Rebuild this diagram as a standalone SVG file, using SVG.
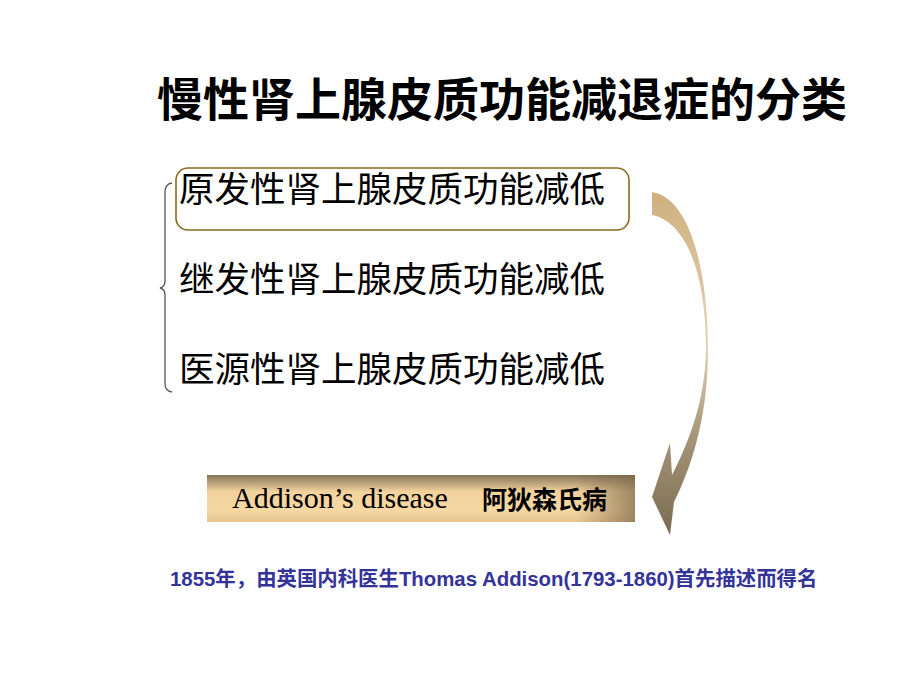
<svg xmlns="http://www.w3.org/2000/svg" width="920" height="690" viewBox="0 0 920 690">
  <style>
    .title { font-family: "Noto Sans CJK SC", sans-serif; font-weight: 700; font-size: 46px; fill: #000; }
    .item { font-family: "Noto Sans CJK SC", sans-serif; font-weight: 400; font-size: 35.5px; fill: #000; }
    .en { font-family: "Liberation Serif", serif; font-size: 30px; fill: #000; }
    .cn { font-family: "Noto Sans CJK SC", sans-serif; font-weight: 700; font-size: 25px; fill: #000; }
    .note { font-family: "Liberation Sans", "Noto Sans CJK SC", sans-serif; font-weight: 700; font-size: 20.4px; fill: #333399; }
  </style>
  <defs>
    <linearGradient id="boxV" x1="0" y1="0" x2="0" y2="1">
      <stop offset="0" stop-color="#867459"/>
      <stop offset="0.35" stop-color="#f2d29d"/>
      <stop offset="0.75" stop-color="#f7d8a3"/>
      <stop offset="1" stop-color="#e6c48f"/>
    </linearGradient>
    <linearGradient id="boxH" x1="0" y1="0" x2="1" y2="0">
      <stop offset="0" stop-color="#7a6648" stop-opacity="0"/>
      <stop offset="0.86" stop-color="#7a6648" stop-opacity="0"/>
      <stop offset="1" stop-color="#7a6648" stop-opacity="0.7"/>
    </linearGradient>
    <linearGradient id="arrowG" gradientUnits="userSpaceOnUse" x1="0" y1="192" x2="0" y2="535">
      <stop offset="0" stop-color="#cfb07f"/>
      <stop offset="0.45" stop-color="#e3d4b8"/>
      <stop offset="0.7" stop-color="#a8977a"/>
      <stop offset="1" stop-color="#7a6b50"/>
    </linearGradient>
  </defs>

  <g id="title">
    <text class="title" x="157" y="116">慢性肾上腺皮质功能减退症的分类</text>
  </g>

  <g id="connectors">
    <path id="brace" d="M172,183 Q165,184 165,192 L165,281 Q165,287 160,288 Q165,289 165,295 L165,384 Q165,391 172,392" fill="none" stroke="#555" stroke-width="1.3"/>
    <path id="curved-arrow" d="M652,192 C690,198 708,270 708,350 C708,420 690,470 674,502 L670,535 L652,497 L670,443 L672,475 C690,440 705,400 706,350 C706,270 685,222 652,215 Z" fill="url(#arrowG)"/>
  </g>

  <g id="node-primary">
    <rect x="176" y="168" width="453" height="62" rx="12" ry="12" fill="none" stroke="#8b6a1e" stroke-width="1.6"/>
    <text class="item" x="179" y="202">原发性肾上腺皮质功能减低</text>
  </g>
  <g id="node-secondary">
    <text class="item" x="179" y="292">继发性肾上腺皮质功能减低</text>
  </g>
  <g id="node-iatrogenic">
    <text class="item" x="179" y="382">医源性肾上腺皮质功能减低</text>
  </g>

  <g id="node-addison">
    <rect x="207" y="475" width="428" height="47" fill="url(#boxV)"/>
    <rect x="207" y="475" width="428" height="47" fill="url(#boxH)"/>
    <text class="en" x="232" y="508">Addison’s disease</text>
    <text class="cn" x="482" y="509">阿狄森氏病</text>
  </g>

  <g id="note">
    <text class="note" x="170" y="586">1855年，由英国内科医生Thomas Addison(1793-1860)首先描述而得名</text>
  </g>
</svg>
